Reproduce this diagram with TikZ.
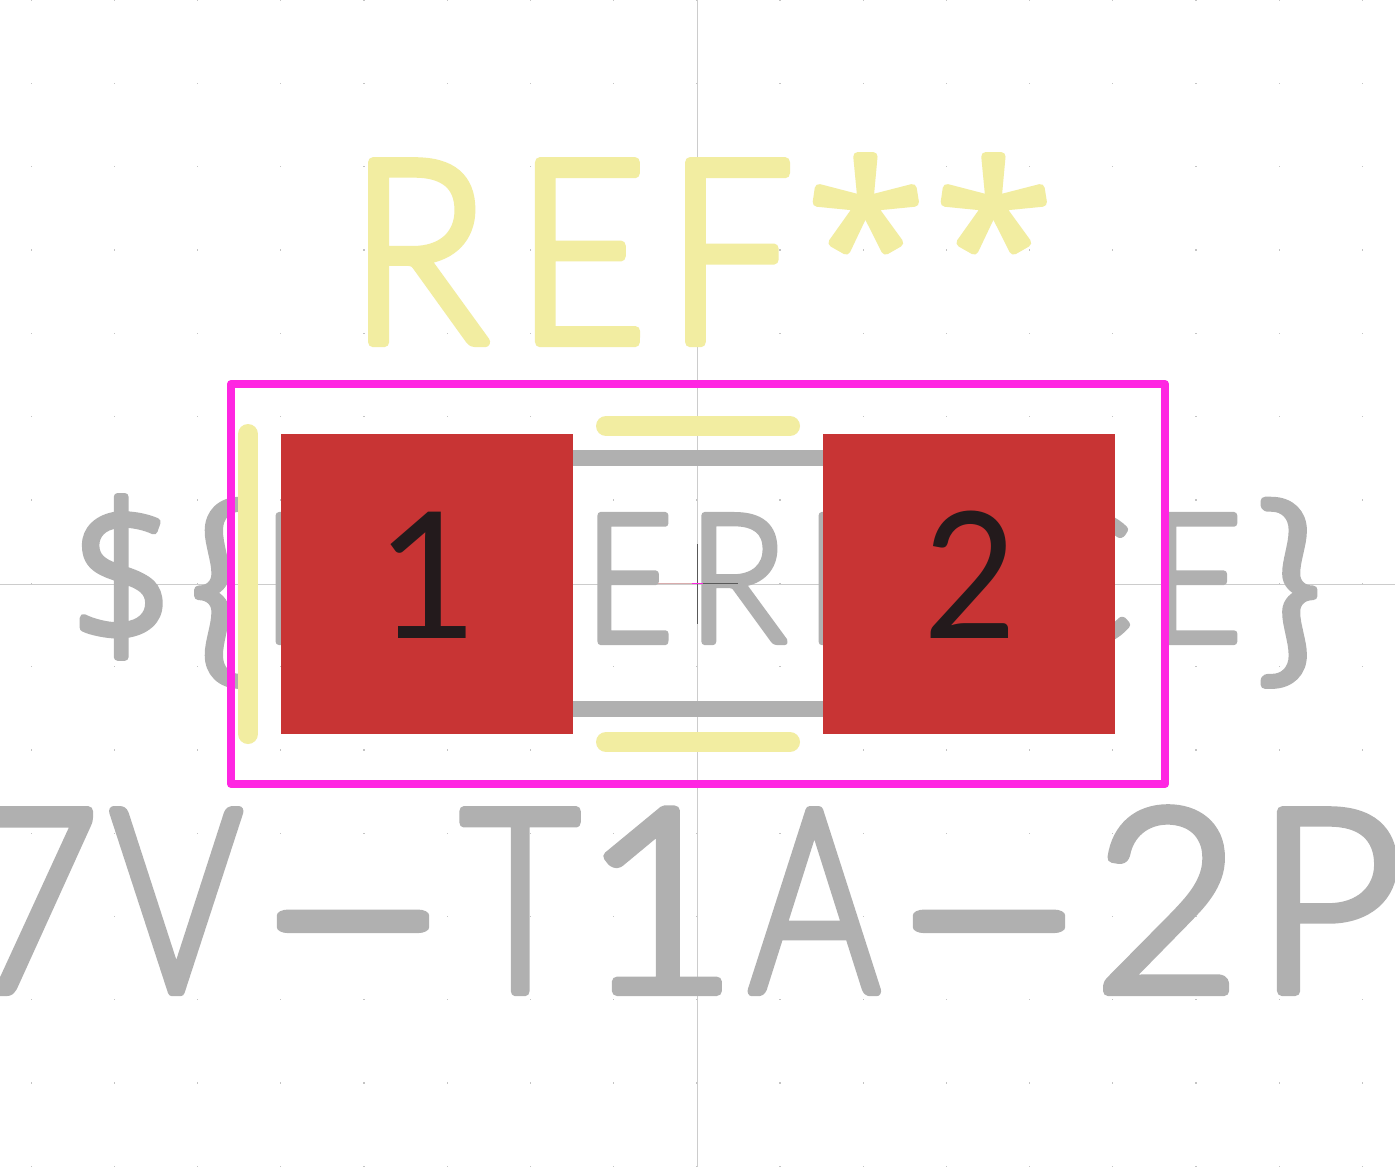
\documentclass[tikz,border=0pt]{standalone}
\usepackage{fontspec}
\usepackage{graphicx}
\setmainfont{DejaVu Sans}
\newfontfamily\strokefont[UprightFont=* Light,FakeBold=4]{Lato}
\newfontfamily\strokefontB[UprightFont=* Light,FakeBold=4]{Open Sans}
\newfontfamily\padfont{Lato}
\definecolor{silk}{HTML}{F2EDA1}
\definecolor{fab}{HTML}{B0B0B0}
\definecolor{griddotc}{HTML}{C4C4C4}
\definecolor{crt}{HTML}{FF26E2}
\definecolor{padred}{HTML}{C83434}
\definecolor{padtxt}{HTML}{231A1C}
\definecolor{axis}{HTML}{CCCCCC}
% place glyph: absolute x offset, horizontal scale, glyph
\newcommand\gl[3]{\rlap{\hspace{#1pt}\scalebox{#2}[1]{#3}}}
% place glyph with vertical scale and raise
\newcommand\gly[5]{\rlap{\hspace{#1pt}\raisebox{#4pt}{\scalebox{#2}[#3]{#5}}}}
\tikzset{
  bigtxt/.style={anchor=base west,inner sep=0pt,outer sep=0pt,font=\strokefont\fontsize{254pt}{254pt}\selectfont},
  smalltxt/.style={anchor=base west,inner sep=0pt,outer sep=0pt,font=\strokefont\fontsize{178pt}{178pt}\selectfont},
  padnum/.style={anchor=base,inner sep=0pt,outer sep=0pt,text=padtxt,font=\padfont\fontsize{176pt}{176pt}\selectfont},
  silkline/.style={draw=silk,line width=20pt,line cap=round},
  fabline/.style={draw=fab,line width=16pt},
  pad/.style={fill=padred,draw=none},
  griddot/.style={fill=griddotc}
}
\begin{document}
\begin{tikzpicture}[x=1pt,y=-1pt,line join=round]
\useasboundingbox (0,0) rectangle (1395,1167);
\fill[white] (0,0) rectangle (1395,1167);
% grid
\foreach \i in {0,...,16}{\foreach \j in {0,...,14}{
  \fill[griddot] ({30.5+83.2*\i},{-0.5+83.3*\j}) rectangle +(1.3,1.3);
}}
% axes
\draw[axis,line width=1pt] (697.5,0) -- (697.5,1167);
\draw[axis,line width=1pt] (0,584) -- (1395,584);
% value text
\node[smalltxt,text=fab] (reftext) at (0,641.5) {\pgfsetroundjoin
 \gly{68}{1.05}{1.1}{-4}{\strokefontB\$}\gly{189}{1.25}{1.16}{-16}{\{}\gl{260}{1}{R}\gl{380}{.89}{E}\gl{480}{.89}{F}\gl{584}{.86}{E}\gl{687}{.92}{R}\gl{805}{.87}{E}\gl{910}{1}{N}\gl{1021}{.92}{C}\gl{1147}{.92}{E}\gly{1256}{1.25}{1.16}{-16}{\}}};
\node[bigtxt,text=fab] (valtext) at (0,991) {\pgfsetroundjoin
 \gl{-34}{.9}{7}\gl{110}{.79}{V}\gly{249}{2.2}{1.15}{-17}{-}\gl{460}{.81}{T}\gl{580.5}{1.07}{1}\gl{748.5}{.785}{A}\gly{885}{2.2}{1.15}{-17}{-}\gl{1093}{1}{2}\gl{1255}{1}{P}};
% fab lines
\draw[fabline] (573,458) -- (823,458);
\draw[fabline] (573,708.5) -- (823,708.5);
% pads
\fill[pad] (281,434) rectangle (573,734);
\fill[pad] (823,434) rectangle (1115,734);
\node[padnum] (p1) at (428,638) {1};
\node[padnum] (p2) at (970.5,638) {\scalebox{.92}[1]{2}};
% courtyard
\draw[crt,line width=8pt] (231,384) rectangle (1165,784);
% silk
\draw[silkline] (248,434) -- (248,734);
\draw[silkline] (606,426) -- (790,426);
\draw[silkline] (606,742) -- (790,742);
\node[bigtxt,text=silk] (refdes) at (0,342) {\pgfsetroundjoin
 \gl{348}{.91}{R}\gl{515.4}{.89}{E}\gl{665.5}{.89}{F}\gly{805.5}{1}{1}{20}{\strokefontB\fontsize{218pt}{218pt}\selectfont *}\gly{933.5}{1}{1}{20}{\strokefontB\fontsize{218pt}{218pt}\selectfont *}};
% anchor
\draw[color=black!65,line width=1pt] (697.3,544) -- (697.3,624);
\draw[color=black!65,line width=1pt] (703,583.5) -- (738,583.5);
\draw[color=pink!70!gray,line width=1pt] (658,583.5) -- (692,583.5);
\draw[crt,line width=1pt] (692,583.5) -- (703,583.5);
\end{tikzpicture}
\end{document}
